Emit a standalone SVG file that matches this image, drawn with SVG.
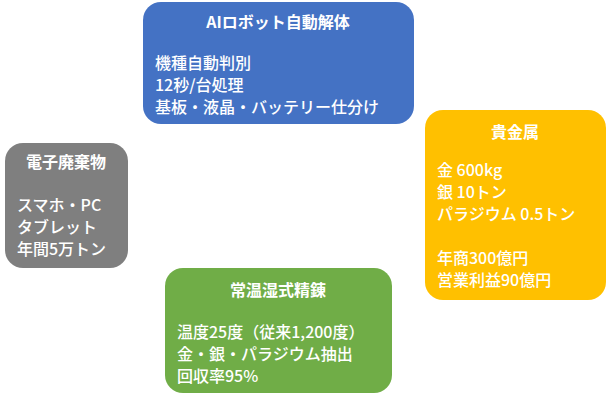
<svg xmlns="http://www.w3.org/2000/svg" width="612" height="400" viewBox="0 0 612 400">
<style>
text{font-family:"Noto Sans CJK JP","Noto Sans",sans-serif;font-size:16px;fill:#fff;font-weight:500}
.t{font-weight:bold;text-anchor:middle;font-size:16px}
</style>
<rect width="612" height="400" fill="#fff"/>
<g id="connectors"></g>
<g id="robot">
<rect x="143" y="2" width="271" height="122" rx="18" fill="#4472C4"/>
<text class="t" x="278" y="28">AIロボット自動解体</text>
<text x="155" y="69">機種自動判別</text>
<text x="155" y="91">12秒/台処理</text>
<text x="155" y="113">基板・液晶・バッテリー仕分け</text>
</g>
<g id="ewaste">
<rect x="5" y="143" width="123" height="125" rx="18" fill="#7F7F7F"/>
<text class="t" x="66" y="168">電子廃棄物</text>
<text x="17" y="211">スマホ・PC</text>
<text x="17" y="233">タブレット</text>
<text x="17" y="255">年間5万トン</text>
</g>
<g id="metal">
<rect x="425" y="110" width="181" height="190" rx="18" fill="#FFC000"/>
<text class="t" x="515" y="138">貴金属</text>
<text x="437" y="176">金 600kg</text>
<text x="437" y="198">銀 10トン</text>
<text x="437" y="220">パラジウム 0.5トン</text>
<text x="437" y="264">年商300億円</text>
<text x="437" y="286">営業利益90億円</text>
</g>
<g id="refine">
<rect x="165" y="268" width="227" height="125" rx="18" fill="#70AD47"/>
<text class="t" x="278" y="296">常温湿式精錬</text>
<text x="177" y="338">温度25度（従来1,200度）</text>
<text x="177" y="360">金・銀・パラジウム抽出</text>
<text x="177" y="382">回収率95%</text>
</g>
</svg>
